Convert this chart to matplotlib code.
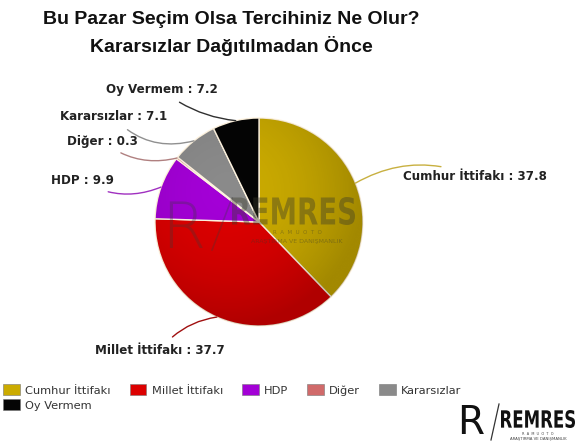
import numpy as np
import matplotlib.pyplot as plt
from matplotlib.patches import Patch, Circle, PathPatch
from matplotlib.textpath import TextPath
from matplotlib.font_manager import FontProperties
from matplotlib.transforms import Affine2D

# vote shares before undecided voters are redistributed
parties = ["Cumhur İttifakı", "Millet İttifakı", "HDP", "Diğer", "Kararsızlar", "Oy Vermem"]
shares = [37.8, 37.7, 9.9, 0.3, 7.1, 7.2]
colors = ["#cbab00", "#dc0000", "#a300d6", "#d06a6a", "#8a8a8a", "#050505"]
line_colors = ["#c8b040", "#a01010", "#a030c0", "#b08080", "#909090", "#303030"]

W, H = 584, 446
CX, CY, R = 259, 224, 104

# label anchor (right end for left-side labels), in pixels, y measured upwards
label_xy = [(403, 269), (225, 96), (114, 265), (138, 305), (167, 329), (218, 356)]
label_ha = ["left", "right", "right", "right", "right", "right"]
label_rad = [0.25, -0.2, 0.25, 0.25, 0.3, 0.15]


def squeezed_text(ax, s, x0, y0, w, h, **kw):
    # draw text stretched into a fixed box (x0, y0 is lower left)
    tp = TextPath((0, 0), s, size=1, prop=FontProperties(family="DejaVu Sans", weight="bold"))
    bb = tp.get_extents()
    tr = Affine2D().translate(-bb.x0, -bb.y0).scale(w / bb.width, h / bb.height).translate(x0, y0)
    ax.add_patch(PathPatch(tr.transform_path(tp), lw=0, **kw))


fig = plt.figure(figsize=(W / 100, H / 100), dpi=100)
ax = fig.add_axes([0, 0, 1, 1])

wedges, _ = ax.pie(shares, colors=colors, startangle=90, counterclock=False,
                   center=(CX, CY), radius=R,
                   wedgeprops=dict(edgecolor="#fff4e0", linewidth=1.0))

# soft shading towards the rim
n = 300
gx, gy = np.meshgrid(np.linspace(-1, 1, n), np.linspace(-1, 1, n))
rr = np.sqrt((gx + 0.3) ** 2 + (gy - 0.3) ** 2)
shade = np.zeros((n, n, 4))
shade[..., 3] = np.clip(0.12 * rr ** 2, 0, 0.2)
im = ax.imshow(shade, extent=(CX - R, CX + R, CY - R, CY + R), origin="lower", zorder=3)
im.set_clip_path(Circle((CX, CY), R, transform=ax.transData))

ax.set_xlim(0, W)
ax.set_ylim(0, H)
ax.set_aspect("equal")
ax.axis("off")

# faint watermark over the pie
squeezed_text(ax, "REMRES", 232, 221, 123, 28, facecolor="#3a3a2a", alpha=0.4, zorder=4)
ax.text(297, 213, "R  A  M  U  O  T  O", fontsize=4, color="#3a3a2a", alpha=0.4,
        ha="center", va="center", zorder=4)
ax.text(297, 205, "ARAŞTIRMA VE DANIŞMANLIK", fontsize=4.5, color="#3a3a2a", alpha=0.4,
        ha="center", va="center", zorder=4)
ax.text(183, 216, "R", fontsize=46, family="DejaVu Sans", fontweight="light",
        color="#3a3a3a", alpha=0.3, ha="center", va="center", zorder=4)
ax.plot([212, 232], [196, 248], color="#3a3a3a", alpha=0.3, lw=1.2, zorder=4)

# callout labels with curved leader lines
cum = np.cumsum([0] + shares)
for i, (name, val) in enumerate(zip(parties, shares)):
    mid = 90 - 360 * (cum[i] + val / 2) / 100
    px = CX + R * np.cos(np.radians(mid))
    py = CY + R * np.sin(np.radians(mid))
    ax.annotate(f"{name} : {val}", xy=(px, py), xytext=label_xy[i],
                ha=label_ha[i], va="center", fontsize=8.6, fontweight="bold",
                family="DejaVu Sans", color="#222222",
                arrowprops=dict(arrowstyle="-", color=line_colors[i], lw=1.0,
                                shrinkA=4, shrinkB=0,
                                connectionstyle=f"arc3,rad={label_rad[i]}"),
                zorder=5)

fig.text(231 / W, 1 - 20 / H, "Bu Pazar Seçim Olsa Tercihiniz Ne Olur?", ha="center", va="center",
         fontsize=14, fontweight="bold", family="Liberation Sans", color="#111111")
fig.text(231 / W, 1 - 46 / H, "Kararsızlar Dağıtılmadan Önce", ha="center", va="center",
         fontsize=14, fontweight="bold", family="Liberation Sans", color="#111111")

# legend fills column-wise, so order entries to read row by row
order = [0, 5, 1, 2, 3, 4]
handles = [Patch(facecolor=colors[i], edgecolor="#777777", linewidth=0.4) for i in order]
leg = fig.legend(handles, [parties[i] for i in order], loc="upper left",
                 bbox_to_anchor=(0, 1 - 381 / H),
                 ncol=5, frameon=False, fontsize=8.2, handlelength=1.45, handleheight=1.1,
                 handletextpad=0.45, columnspacing=1.7, labelspacing=0.3, borderaxespad=0,
                 borderpad=0.3)
for t in leg.get_texts():
    t.set_color("#333333")

# logo in the bottom right corner
ax.text(471, 23, "R", fontsize=28, family="DejaVu Sans", fontweight="normal",
        color="#111111", ha="center", va="center")
ax.plot([491, 499], [6, 42], color="#333333", lw=0.9)
squeezed_text(ax, "REMRES", 501, 18, 74, 18, facecolor="#111111")
ax.text(538, 12, "R  A  M  U  O  T  O", fontsize=2.5, color="#444444", ha="center", va="center")
ax.text(538, 7, "ARAŞTIRMA VE DANIŞMANLIK", fontsize=2.8, color="#444444",
        ha="center", va="center")

fig.savefig("out.png", dpi=100, facecolor="white")
